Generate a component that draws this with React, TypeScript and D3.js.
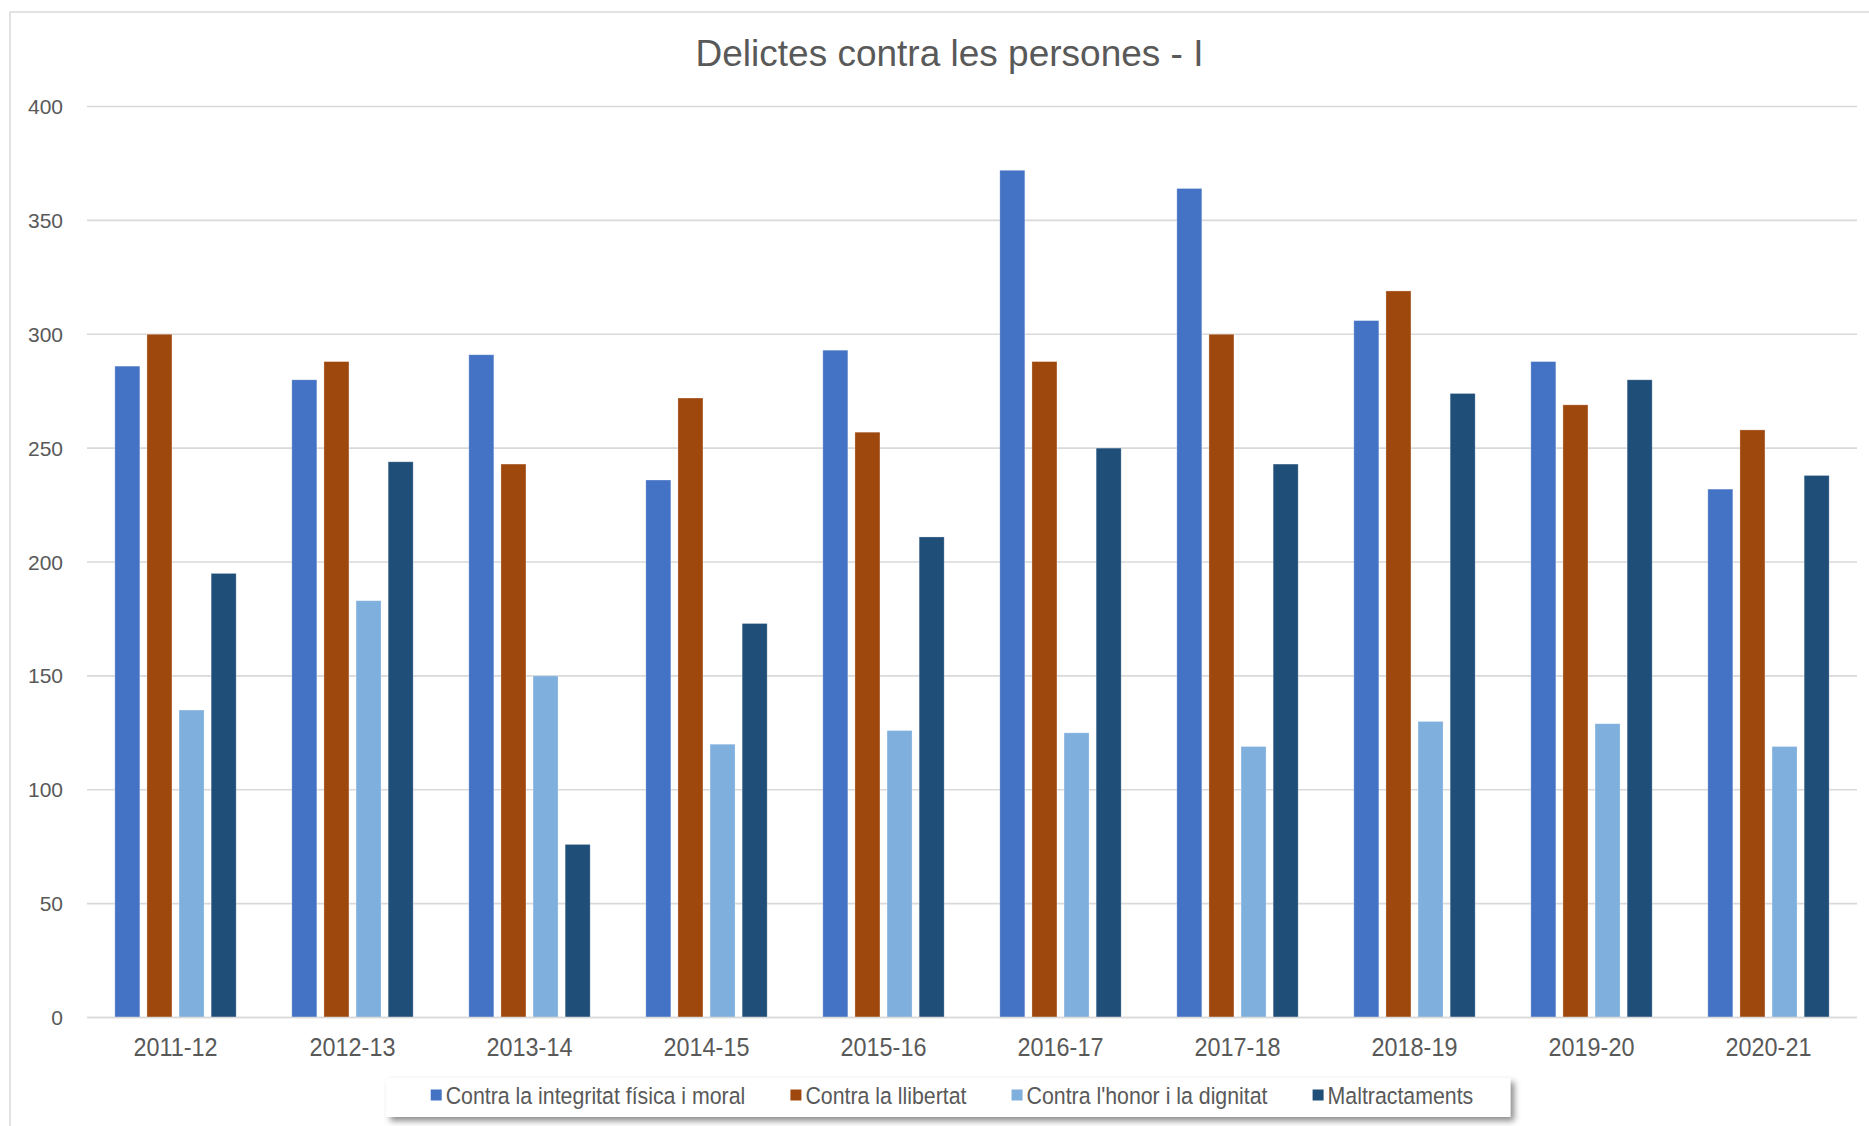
import React, { useEffect } from 'react';
import * as d3 from 'd3';

const categories = ['2011-12', '2012-13', '2013-14', '2014-15', '2015-16', '2016-17', '2017-18', '2018-19', '2019-20', '2020-21'];
const seriesNames = ['Contra la integritat física i moral', 'Contra la llibertat', "Contra l'honor i la dignitat", 'Maltractaments'];
const integritat = [286, 280, 291, 236, 293, 372, 364, 306, 288, 232];
const llibertat = [300, 288, 243, 272, 257, 288, 300, 319, 269, 258];
const honor = [135, 183, 150, 120, 126, 125, 119, 130, 129, 119];
const maltractaments = [195, 244, 76, 173, 211, 250, 243, 274, 280, 238];
const yTicks = [0, 50, 100, 150, 200, 250, 300, 350, 400];
const colors = ['#4472C4', '#9E480E', '#7FAFDD', '#1F4E79'];
const title = 'Delictes contra les persones - I';

const W = 1869;
const H = 1126;
const FONT = "'Liberation Sans', Arial, Helvetica, sans-serif";
const TXT = '#595959';

function measure(text: string, size: number): number {
  const c = document.createElement('canvas');
  const ctx = c.getContext('2d');
  if (!ctx) return text.length * size * 0.5;
  ctx.font = `${size}px ${FONT}`;
  return ctx.measureText(text).width;
}

export default function App() {
  useEffect(() => {
    document.body.style.margin = '0';
    document.body.style.overflow = 'hidden';
  }, []);

  const seriesValues = [integritat, llibertat, honor, maltractaments];

  const x0 = d3.scaleBand<string>().domain(categories).range([87, 1857]).paddingInner(0).paddingOuter(0);
  const bw0 = x0.bandwidth();
  const x1 = d3
    .scaleBand<string>()
    .domain(seriesNames)
    .range([bw0 * 0.1573, bw0 * 0.8427])
    .paddingInner(0.221)
    .paddingOuter(0);
  const y = d3.scaleLinear().domain([0, 400]).range([1017.5, 106.5]);

  // legend layout
  const legFont = 24.5;
  const legScale = 0.87;
  const sq = 11;
  const sqGap = 4;
  const itemGap = 45;
  const widths = seriesNames.map((s) => measure(s, legFont) * legScale);
  const itemWidths = widths.map((w) => sq + sqGap + w);
  const contentW = d3.sum(itemWidths) + itemGap * (seriesNames.length - 1);
  const contentStart = 952 - contentW / 2;
  const offsets: number[] = [];
  let acc = contentStart;
  itemWidths.forEach((w) => {
    offsets.push(acc);
    acc += w + itemGap;
  });
  const legCy = 1095;
  const boxX = contentStart - 44.5;
  const boxW = contentW + 44.5 + 37;

  return (
    <svg
      width={W}
      height={H}
      viewBox={`0 0 ${W} ${H}`}
      style={{ position: 'absolute', left: 0, top: 0, background: '#fff' }}
      fontFamily={FONT}
    >
      <defs>
        <filter id="legShadow" x="-5%" y="-40%" width="110%" height="200%">
          <feDropShadow dx="4" dy="4" stdDeviation="3" floodColor="#000" floodOpacity="0.45" />
        </filter>
      </defs>
      <rect x={0} y={0} width={W} height={H} fill="#fff" />
      <rect x={10} y={12} width={1890} height={1140} fill="#fff" stroke="#D9D9D9" strokeWidth={1.5} />

      <text x={949.5} y={66} textAnchor="middle" fontSize={37} fill={TXT}>
        {title}
      </text>

      {yTicks.map((t) => (
        <g key={t}>
          <line x1={87} x2={1857} y1={y(t)} y2={y(t)} stroke="#D9D9D9" strokeWidth={1.6} />
          <text x={63} y={y(t)} dy="0.36em" textAnchor="end" fontSize={21} fill={TXT}>
            {t}
          </text>
        </g>
      ))}

      {categories.map((c, i) => (
        <g key={c} transform={`translate(${x0(c)},0)`}>
          {seriesNames.map((s, j) => {
            const v = seriesValues[j][i];
            return (
              <rect
                key={s}
                x={x1(s)}
                y={y(v)}
                width={x1.bandwidth()}
                height={y(0) - y(v)}
                fill={colors[j]}
                stroke="#ffffff"
                strokeOpacity={0.35}
                strokeWidth={0.8}
              />
            );
          })}
        </g>
      ))}
      <line x1={87} x2={1857} y1={y(0)} y2={y(0)} stroke="#D9D9D9" strokeWidth={1.6} />

      {categories.map((c) => {
        const cx = (x0(c) as number) + bw0 / 2;
        return (
          <text
            key={c}
            transform={`translate(${cx},1055.5) scale(0.9,1)`}
            textAnchor="middle"
            fontSize={26}
            fill={TXT}
          >
            {c}
          </text>
        );
      })}

      <rect x={boxX} y={1078} width={boxW} height={39} fill="#fff" filter="url(#legShadow)" />
      {seriesNames.map((s, j) => (
        <g key={s}>
          <rect x={offsets[j]} y={legCy - sq / 2} width={sq} height={sq} fill={colors[j]} />
          <text
            transform={`translate(${offsets[j] + sq + sqGap},${legCy + legFont * 0.358}) scale(${legScale},1)`}
            fontSize={legFont}
            fill={TXT}
          >
            {s}
          </text>
        </g>
      ))}
    </svg>
  );
}
